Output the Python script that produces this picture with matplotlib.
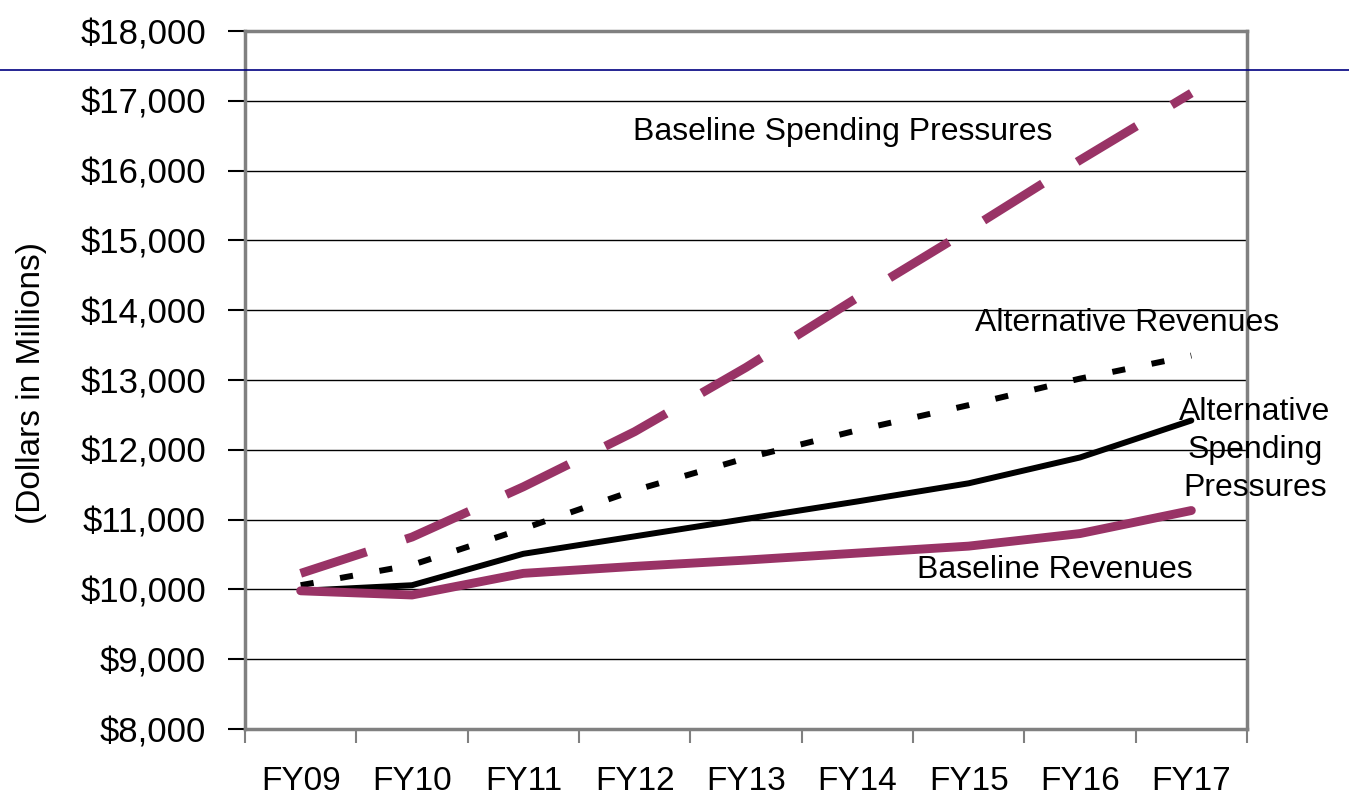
import matplotlib
matplotlib.use("Agg")
import matplotlib.pyplot as plt
from matplotlib.lines import Line2D
from matplotlib.ticker import FuncFormatter, FixedLocator

plt.rcParams['font.family'] = ['Liberation Sans', 'DejaVu Sans']

categories = ["FY09", "FY10", "FY11", "FY12", "FY13", "FY14", "FY15", "FY16", "FY17"]
baseline_spending = [10230, 10750, 11470, 12260, 13180, 14180, 15150, 16150, 17110]
alternative_revenues = [10060, 10350, 10870, 11420, 11880, 12280, 12640, 13020, 13350]
alternative_spending = [9980, 10060, 10510, 10760, 11010, 11260, 11520, 11890, 12420]
baseline_revenues = [9980, 9920, 10230, 10330, 10420, 10520, 10620, 10800, 11130]

purple = "#993366"
grey = "#808080"

fig = plt.figure(figsize=(13.49, 7.96), dpi=100)
ax = fig.add_axes([245/1349, 1-729/796, (1247-245)/1349, (729-31)/796])

x = list(range(len(categories)))
ax.plot(x, baseline_spending, color=purple, lw=6.4, dashes=(7.8, 4.6), dash_capstyle='butt')
ax.plot(x, alternative_revenues, color="black", lw=4.3, dashes=(2.2, 4.5), dash_capstyle='butt')
ax.plot(x, alternative_spending, color="black", lw=4.3, solid_capstyle='round', solid_joinstyle='round')
ax.plot(x, baseline_revenues, color=purple, lw=6.4, solid_capstyle='round', solid_joinstyle='round')

ax.set_xlim(-0.5, 8.5)
ax.set_ylim(8000, 18000)
ax.set_yticks(range(8000, 18001, 1000))
ax.yaxis.set_major_formatter(FuncFormatter(lambda v, p: f"${int(v):,}"))
ax.yaxis.grid(True, color="black", lw=1.0)
ax.set_axisbelow(True)

ax.xaxis.set_major_locator(FixedLocator([i - 0.5 for i in range(len(categories) + 1)]))
ax.xaxis.set_major_formatter(FuncFormatter(lambda v, p: ""))
ax.set_xticks(x, minor=True)
ax.set_xticklabels(categories, minor=True, fontsize=24)
ax.tick_params(axis='x', which='minor', length=0, pad=27)
ax.tick_params(axis='x', which='major', length=10, width=1.5, color=grey, direction='out')
ax.tick_params(axis='y', length=12, width=1.5, color="black", labelsize=25, pad=16)

for s in ax.spines.values():
    s.set_color(grey)
    s.set_linewidth(2.5)

fig.text(32/1349, 1-383/796, "(Dollars in Millions)", fontsize=24, rotation=90,
         ha='center', va='center')

tk = dict(fontsize=23, ha='center', va='center', clip_on=False)
ax.text(4.87, 16560, "Baseline Spending Pressures", **tk)
ax.text(7.42, 13820, "Alternative Revenues", **tk)
ax.text(8.57, 12000, "Alternative\nSpending\nPressures", linespacing=1.35, **tk)
ax.text(6.77, 10280, "Baseline Revenues", **tk)

fig.add_artist(Line2D([0, 1], [1 - 70/796, 1 - 70/796], transform=fig.transFigure,
                      color="#000080", lw=1.2))

fig.savefig("out.png", dpi=100)
